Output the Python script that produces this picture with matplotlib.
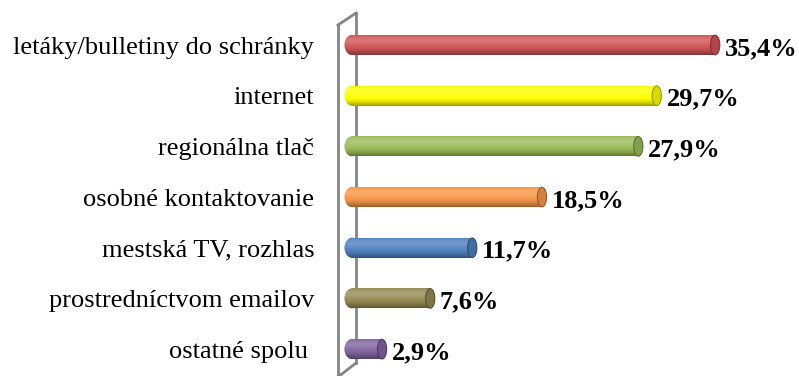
import numpy as np
import matplotlib
matplotlib.use("Agg")
import matplotlib.pyplot as plt
from matplotlib.patches import Ellipse
from matplotlib.colors import to_rgb

categories = [
    "letáky/bulletiny do schránky",
    "internet",
    "regionálna tlač",
    "osobné kontaktovanie",
    "mestská TV, rozhlas",
    "prostredníctvom emailov",
    "ostatné spolu ",
]
values = [35.4, 29.7, 27.9, 18.5, 11.7, 7.6, 2.9]
colors = ["#D05454", "#FFFF00", "#9BBB59", "#F79646", "#4F81BD", "#948A54", "#8064A2"]

W, H = 799, 376
plt.rcParams["font.family"] = ["Liberation Serif", "DejaVu Serif"]

fig = plt.figure(figsize=(W / 100, H / 100), dpi=100)

# back wall drawn in pixel space underneath the bars
bg = fig.add_axes([0, 0, 1, 1], zorder=0)
bg.set_xlim(0, W)
bg.set_ylim(H, 0)
bg.axis("off")
wall = "#858585"
bg.plot([338, 338], [25, 377], color=wall, lw=2)
bg.plot([356, 356], [13, 363], color=wall, lw=2)
bg.plot([338, 356], [25, 13], color=wall, lw=2)
bg.plot([338, 356], [377, 363], color=wall, lw=2)

ax = fig.add_axes([344 / W, 0, 1 - 344 / W, 1], zorder=1)
ax.patch.set_alpha(0)
for s in ax.spines.values():
    s.set_visible(False)
ax.set_xticks([])
y = np.arange(len(categories))
ax.set_yticks(y, categories, fontsize=19)
ax.tick_params(axis="y", length=0, pad=21.5)

h = 0.395


def shade(base, n=64):
    t = np.linspace(0, 1, n)[:, None]
    c = np.array(to_rgb(base))[None, :]
    hi = 0.2 * np.exp(-((t - 0.3) / 0.22) ** 2)
    dark = 0.38 * np.clip((t - 0.6) / 0.4, 0, 1) ** 1.5 + 0.1 * np.clip((0.1 - t) / 0.1, 0, 1)
    rgb = c + (1 - c) * hi
    rgb = rgb * (1 - dark)
    return np.clip(rgb, 0, 1)[:, None, :]


bars = ax.barh(y, values, height=h, color=colors, zorder=2)
for i, (bar, v, c) in enumerate(zip(bars, values, colors)):
    grad = shade(c)
    im = ax.imshow(grad, extent=[0, v, i + h / 2, i - h / 2], origin="upper",
                   aspect="auto", zorder=3, interpolation="bilinear")
    im.set_clip_path(bar)
    # rounded left end
    left = Ellipse((0, i), width=1.5, height=h, facecolor=c, edgecolor="none", zorder=2)
    ax.add_patch(left)
    im2 = ax.imshow(grad, extent=[-0.8, 0.1, i + h / 2, i - h / 2], origin="upper",
                    aspect="auto", zorder=3, interpolation="bilinear")
    im2.set_clip_path(left)
    # end cap
    cc = np.array(to_rgb(c))
    cap = Ellipse((v, i), width=0.9, height=h * 0.98, facecolor=cc * 0.85,
                  edgecolor=cc * 0.6, lw=0.8, zorder=4)
    ax.add_patch(cap)
    ax.text(v + 0.95, i + 0.07, f"{v:.1f}%".replace(".", ","), fontsize=19,
            fontweight="bold", va="center", ha="left", zorder=5)

ax.set_xlim(-0.81, 43.58)
ax.set_ylim(6.53, -0.888)

fig.savefig("out.png", dpi=100)
